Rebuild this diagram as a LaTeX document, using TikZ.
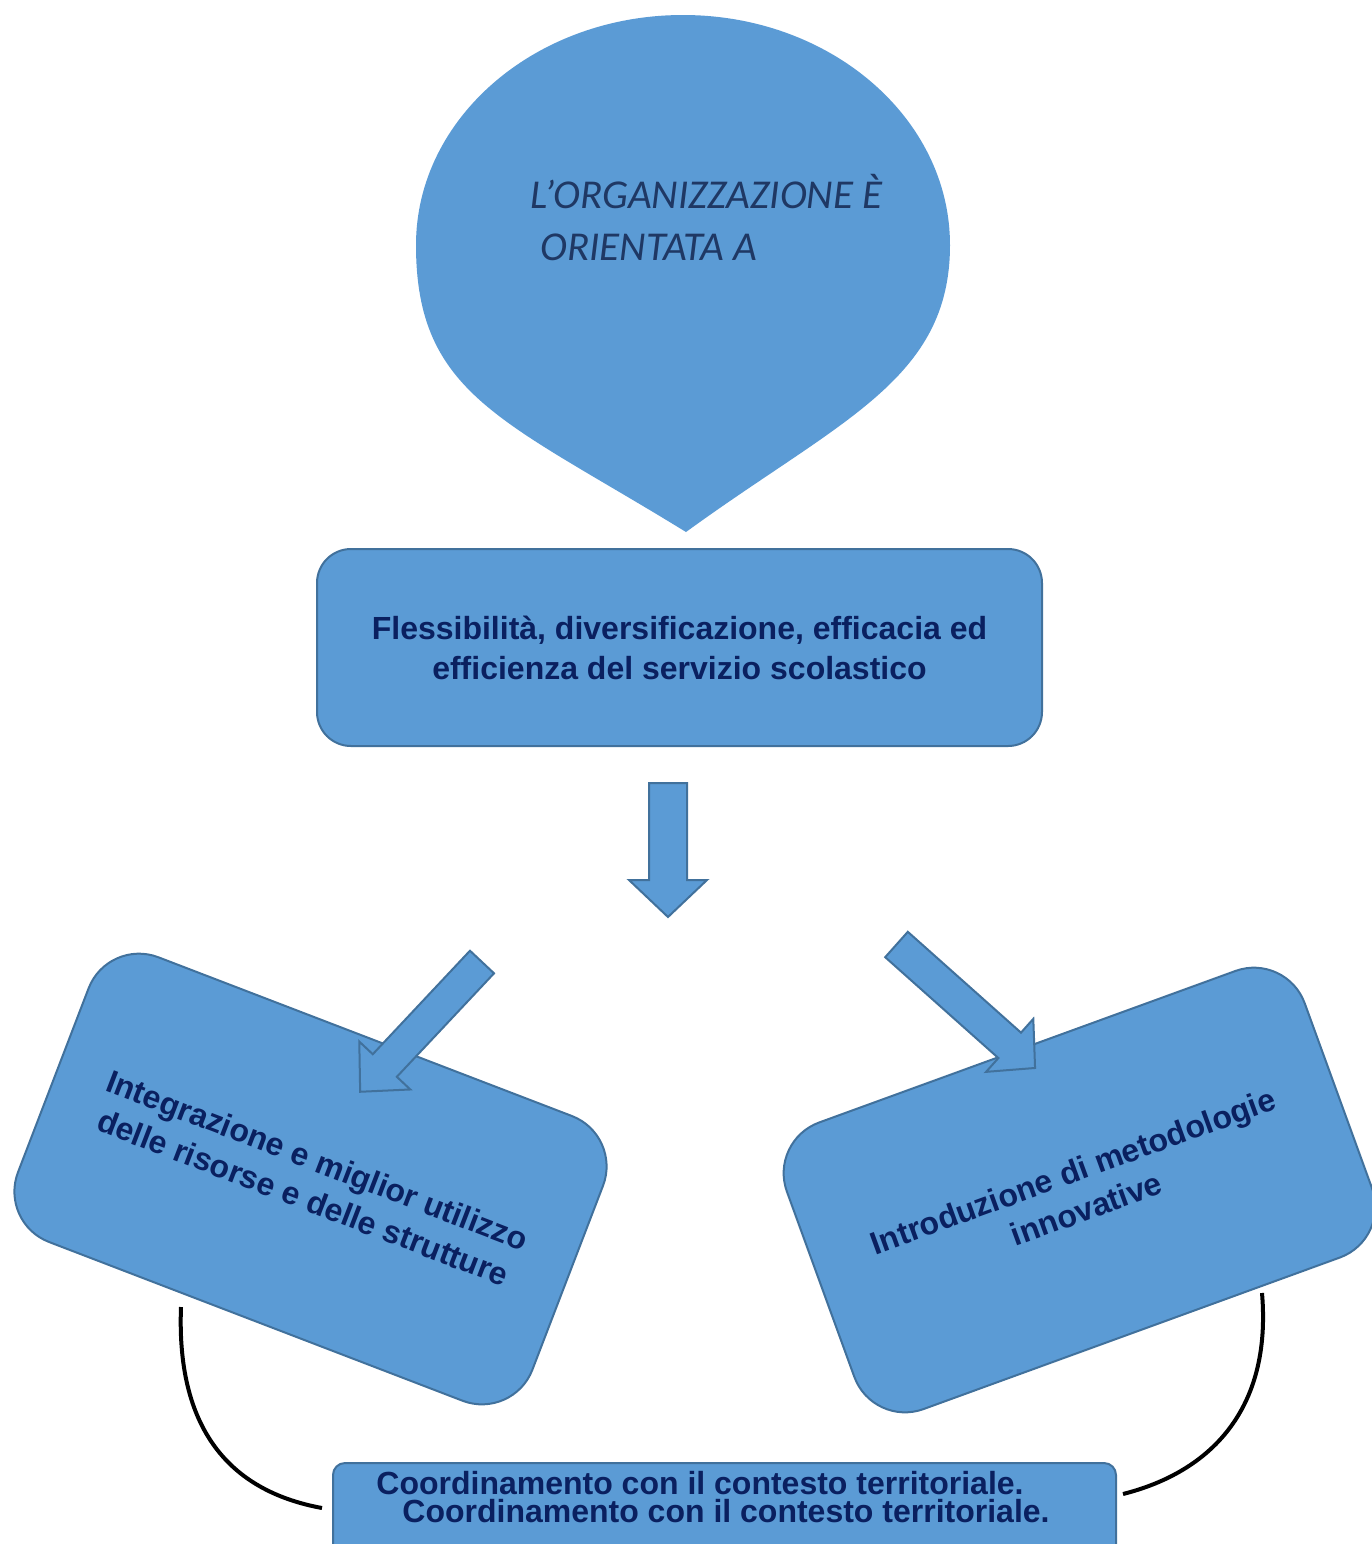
\documentclass[tikz,border=0pt]{standalone}
\usepackage{fontspec}
\setmainfont{Liberation Sans}
\newfontfamily\calibrifont{Carlito}
\definecolor{boxfill}{RGB}{91,155,213}
\definecolor{boxline}{RGB}{65,113,156}
\definecolor{txtnavy}{RGB}{10,32,96}
\definecolor{ittext}{RGB}{31,56,100}
\begin{document}
\begin{tikzpicture}[x=0.5pt,y=-0.5pt,
  blueshape/.style={fill=boxfill, draw=boxline, line width=1pt},
  rbox/.style={blueshape, inner sep=0pt, align=center, text=txtnavy,
    font=\bfseries\fontsize{16pt}{20pt}\selectfont},
  blockarrow/.style={blueshape, line join=miter},
  link/.style={line width=2pt, draw=black}]
\useasboundingbox (0,0) rectangle (1372,1544);
\fill[white] (0,0) rectangle (1372,1544);

% teardrop
\path[fill=boxfill] (416,245) .. controls (416,118) and (535.5,15) .. (683,15)
  .. controls (830.5,15) and (950,118) .. (950,245)
  .. controls (950,380) and (840,420) .. (686,532)
  .. controls (504,420) and (416,395) .. (416,245) -- cycle;
\node[font=\calibrifont\itshape\fontsize{20.5pt}{26pt}\selectfont, text=ittext,
  align=left, anchor=base west, inner sep=0pt] (orgtext) at (530,260)
  {L’ORGANIZZAZIONE È\\\hspace{5pt}ORIENTATA A};

% middle box
\node[rbox, minimum width=362.5pt, minimum height=98.5pt, rounded corners=17pt]
  (flex) at (679.5,647.5)
  {Flessibilità, diversificazione, efficacia ed\\efficienza del servizio scolastico};

% down arrow
\draw[blockarrow, shift={(668,783)}, rotate=-90]
  (0,-19) -- (97,-19) -- (97,-39) -- (134,0) -- (97,39) -- (97,19) -- (0,19) -- cycle;

% rotated boxes
\node[rbox, minimum width=275.5pt, minimum height=152.5pt, rounded corners=27pt,
  rotate=-21] (integr) at (310.5,1179)
  {Integrazione e miglior utilizzo\\delle risorse e delle strutture};
\node[rbox, minimum width=275.5pt, minimum height=152.5pt, rounded corners=27pt,
  rotate=20] (innov) at (1079.5,1190)
  {Introduzione di metodologie\\innovative};

% diagonal arrows
\draw[blockarrow, shift={(482,962)}, rotate=-133.2]
  (0,-16.5) -- (142,-16.5) -- (142,-35) -- (178,0) -- (142,35) -- (142,16.5) -- (0,16.5) -- cycle;
\draw[blockarrow, shift={(896.5,944.5)}, rotate=-41.7]
  (0,-17) -- (151.6,-17) -- (151.6,-35.5) -- (185.6,0) -- (151.6,35.5) -- (151.6,17) -- (0,17) -- cycle;

% curves
\coordinate (lA) at (181,1307);
\coordinate (lB) at (322,1508);
\coordinate (rA) at (1262,1293);
\coordinate (rB) at (1123,1494);
\draw[link] (lA) .. controls (176,1435) and (235,1492) .. (lB);
\draw[link] (rA) .. controls (1272,1410) and (1210,1472) .. (rB);

% bottom box
\node[blueshape, rounded corners=6pt, minimum width=391.5pt, minimum height=50pt,
  anchor=north, inner sep=0pt] (coordbox) at (724.5,1462) {};
\node[font=\bfseries\fontsize{16pt}{14pt}\selectfont, text=txtnavy, align=left,
  anchor=north west, inner sep=0pt] (coordtext) at (376,1471)
  {Coordinamento con il contesto territoriale.\\\hspace{13pt}Coordinamento con il contesto territoriale.};
\end{tikzpicture}
\end{document}
